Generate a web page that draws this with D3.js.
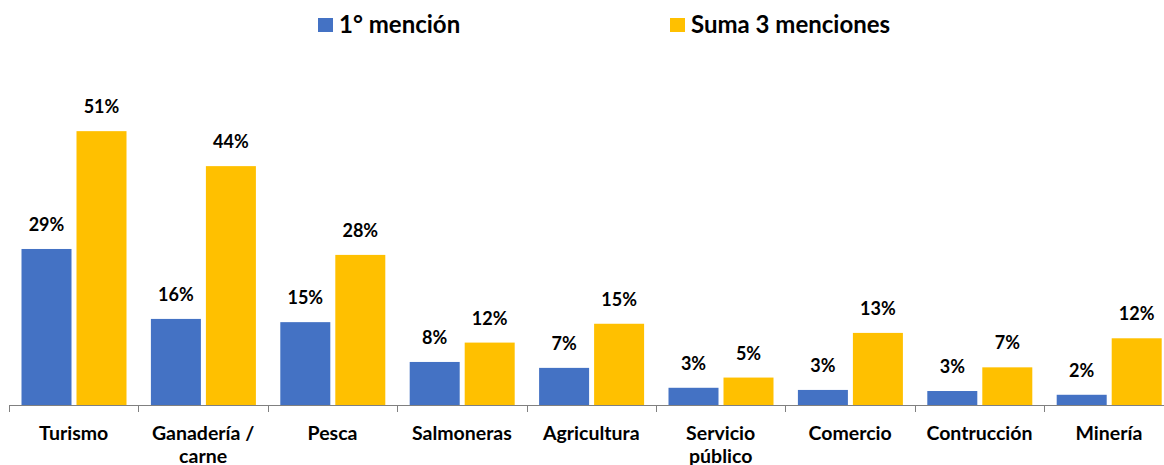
<!DOCTYPE html>
<html>
<head>
<meta charset="utf-8">
<script src="https://cdn.jsdelivr.net/npm/d3@7"></script>
<style>
  html, body { margin: 0; padding: 0; background: #ffffff; }
  svg { display: block; font-family: Lato, "Open Sans", sans-serif; font-weight: bold; }
</style>
</head>
<body>
<svg id="chart" width="1164" height="465"></svg>
<script>
// Sectors
const categories = ["Turismo", "Ganadería / carne", "Pesca", "Salmoneras", "Agricultura",
                    "Servicio público", "Comercio", "Contrucción", "Minería"];
// Series names
const seriesNames = ["1° mención", "Suma 3 menciones"];
// Percent values per series
const firstMention = [29.0, 16.0, 15.4, 8.0, 6.9, 3.2, 2.8, 2.6, 1.9];
const threeMentions = [50.9, 44.4, 27.9, 11.6, 15.1, 5.1, 13.4, 7.0, 12.4];
const seriesColors = ["#4472C4", "#FFC000"];

const svg = d3.select("#chart");

const baseY = 405;
const x0 = d3.scaleBand().domain(categories).range([9, 1173.6]).paddingInner(0).paddingOuter(0);
const x1 = d3.scaleBand().domain(seriesNames)
  .range([12.5, 12.5 + 105]).paddingInner(0.0909).paddingOuter(0);
const y = d3.scaleLinear().domain([0, 60]).range([baseY, baseY - 60 * 5.38]);

const rows = categories.map((c, i) => ({ cat: c, vals: [firstMention[i], threeMentions[i]] }));

const groups = svg.append("g").selectAll("g").data(rows).join("g")
  .attr("transform", d => `translate(${x0(d.cat)},0)`);

groups.selectAll("rect")
  .data(d => d.vals.map((v, k) => ({ key: seriesNames[k], v, k })))
  .join("rect")
  .attr("x", d => x1(d.key))
  .attr("width", x1.bandwidth())
  .attr("y", d => y(d.v))
  .attr("height", d => baseY - y(d.v))
  .attr("fill", d => seriesColors[d.k]);

groups.selectAll("text.val")
  .data(d => d.vals.map((v, k) => ({ key: seriesNames[k], v, k })))
  .join("text")
  .attr("class", "val")
  .attr("x", d => x1(d.key) + x1.bandwidth() / 2)
  .attr("y", d => y(d.v) - 18)
  .attr("text-anchor", "middle")
  .attr("font-size", 18)
  .attr("fill", "#000")
  .text(d => Math.round(d.v) + "%");

// Category axis with ticks at band boundaries
const axisG = svg.append("g");
axisG.append("line")
  .attr("x1", x0.range()[0]).attr("x2", 1164)
  .attr("y1", baseY + 0.5).attr("y2", baseY + 0.5)
  .attr("stroke", "#808080").attr("stroke-width", 1);
axisG.selectAll("line.tick")
  .data(categories)
  .join("line")
  .attr("class", "tick")
  .attr("x1", d => Math.round(x0(d)) + 0.5).attr("x2", d => Math.round(x0(d)) + 0.5)
  .attr("y1", baseY).attr("y2", baseY + 7)
  .attr("stroke", "#808080").attr("stroke-width", 1);

const labels = axisG.selectAll("text.cat")
  .data(categories)
  .join("text")
  .attr("class", "cat")
  .attr("x", d => x0(d) + x0.bandwidth() / 2)
  .attr("y", 440)
  .attr("text-anchor", "middle")
  .attr("font-size", 19.5)
  .attr("fill", "#000");

// Wrap long category names onto two lines
labels.each(function (d) {
  const el = d3.select(this);
  const words = d.split(" ");
  const maxW = 122;
  let line = [];
  let lines = [];
  const probe = el.append("tspan");
  words.forEach(w => {
    const test = line.concat(w).join(" ");
    probe.text(test);
    if (probe.node().getComputedTextLength() > maxW && line.length) {
      lines.push(line.join(" "));
      line = [w];
    } else {
      line.push(w);
    }
  });
  lines.push(line.join(" "));
  probe.remove();
  lines.forEach((t, i) => {
    el.append("tspan")
      .attr("x", x0(d) + x0.bandwidth() / 2)
      .attr("dy", i === 0 ? 0 : 23)
      .text(t);
  });
});

// Legend
const legendX = [318, 670];
const legend = svg.append("g").selectAll("g").data(seriesNames).join("g")
  .attr("transform", (d, i) => `translate(${legendX[i]},0)`);
legend.append("rect")
  .attr("x", 0).attr("y", 18).attr("width", 15).attr("height", 14)
  .attr("fill", (d, i) => seriesColors[i]);
legend.append("text")
  .attr("x", 21).attr("y", 33)
  .attr("font-size", 24)
  .attr("fill", "#000")
  .text(d => d);
</script>
</body>
</html>
